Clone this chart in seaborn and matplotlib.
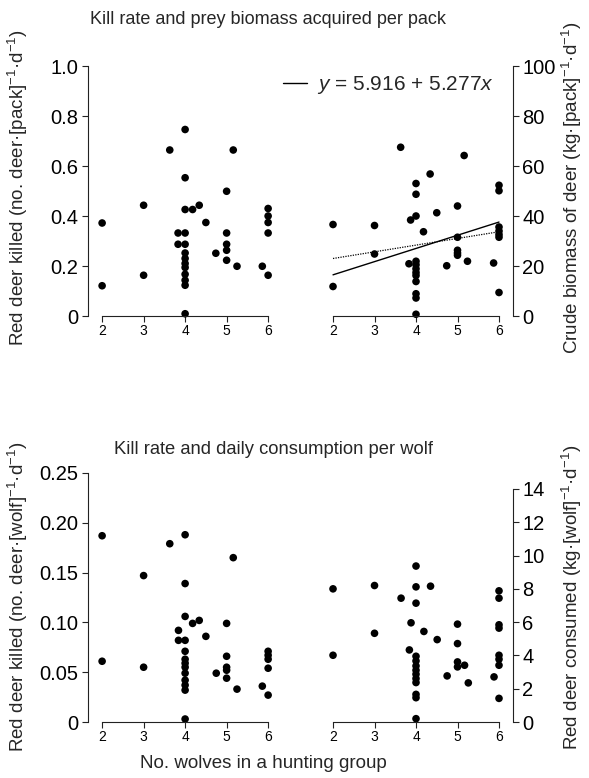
import matplotlib
matplotlib.use("Agg")
import matplotlib.pyplot as plt
import seaborn as sns
from matplotlib.lines import Line2D

# values
pack_x = [2, 2, 3, 3, 3.63, 4, 4, 4, 4.18, 4.34, 4.5, 3.83, 4, 3.83, 4, 4, 4, 4, 4,
          4, 4, 4, 4, 4.74, 5, 5, 5, 5, 5, 5.16, 5.25, 5.86, 6, 6, 6, 6, 6]
pack_kill = [0.372, 0.121, 0.443, 0.163, 0.664, 0.746, 0.553, 0.426, 0.426, 0.443,
             0.374, 0.332, 0.332, 0.287, 0.287, 0.252, 0.230, 0.210, 0.194, 0.167,
             0.143, 0.123, 0.009, 0.251, 0.499, 0.332, 0.287, 0.263, 0.223, 0.664,
             0.199, 0.199, 0.430, 0.400, 0.374, 0.332, 0.163]

bio_x = [2, 2, 3, 3, 3.63, 4, 4, 4, 3.87, 4.18, 4.34, 4.5, 3.83, 4, 4, 4, 4, 4, 4,
         4, 4, 4, 4.74, 5, 5, 5, 5, 5, 5.16, 5.24, 5.87, 6, 6, 6, 6, 6, 6, 6]
bio_pack = [36.6, 11.8, 36.2, 24.8, 67.5, 53.0, 48.7, 40.0, 38.4, 33.7, 56.8, 41.3,
            20.9, 21.9, 20.5, 18.9, 17.4, 16.2, 13.8, 8.9, 7.2, 0.7, 20.1, 44.0,
            31.5, 26.3, 25.2, 24.3, 64.2, 21.9, 21.2, 52.3, 50.1, 35.6, 34.0, 32.6,
            31.5, 9.4]

wolf_x = [2, 2, 3, 3, 3.63, 4, 4, 4, 4.18, 4.34, 4.5, 3.84, 3.84, 4, 4, 4, 4, 4, 4,
          4, 4, 4, 4, 4.75, 5, 5, 5, 5, 5, 5.16, 5.25, 5.86, 6, 6, 6, 6, 6]
wolf_kill = [0.187, 0.061, 0.147, 0.055, 0.179, 0.188, 0.139, 0.106, 0.099, 0.102,
             0.086, 0.092, 0.082, 0.082, 0.071, 0.063, 0.059, 0.055, 0.049, 0.042,
             0.037, 0.032, 0.003, 0.049, 0.099, 0.066, 0.055, 0.052, 0.044, 0.165,
             0.033, 0.036, 0.071, 0.067, 0.063, 0.054, 0.027]

cons_x = [2, 2, 3, 3, 3.64, 4, 4, 4, 3.88, 4.19, 4.35, 4.51, 3.84, 4, 4, 4, 4, 4, 4,
          4, 4, 4, 4, 4.75, 5, 5, 5, 5, 5.17, 5.26, 5.88, 6, 6, 6, 6, 6, 6, 6, 6]
wolf_cons = [8.0, 4.01, 8.2, 5.33, 7.44, 9.37, 8.12, 7.14, 5.96, 5.44, 8.16, 4.95,
             4.33, 3.95, 3.67, 3.37, 3.11, 2.87, 2.61, 2.37, 1.66, 1.46, 0.2, 2.77,
             5.88, 4.71, 3.61, 3.31, 3.41, 2.35, 2.71, 7.88, 7.44, 5.84, 5.64, 4.01,
             3.77, 3.41, 1.42]

# fitted lines on the biomass panel
fit_intercept, fit_slope = 5.916, 5.277
dotted_intercept, dotted_slope = 17.65, 2.675
line_x = [2, 6]

x_ticks = [2, 3, 4, 5, 6]
pack_ticks = [0, 0.2, 0.4, 0.6, 0.8, 1.0]
pack_labels = ["0", "0.2", "0.4", "0.6", "0.8", "1.0"]
bio_ticks = [0, 20, 40, 60, 80, 100]
wolf_ticks = [0, 0.05, 0.10, 0.15, 0.20, 0.25]
wolf_labels = ["0", "0.05", "0.10", "0.15", "0.20", "0.25"]
cons_ticks = [0, 2, 4, 6, 8, 10, 12, 14]

sns.set_style("ticks")
plt.rcParams["font.family"] = ["Liberation Sans", "DejaVu Sans"]
plt.rcParams["mathtext.fontset"] = "custom"
plt.rcParams["mathtext.rm"] = "Liberation Sans"
plt.rcParams["mathtext.it"] = "Liberation Sans:italic"
plt.rcParams["axes.linewidth"] = 0.8
plt.rcParams["axes.edgecolor"] = "#222222"

fig = plt.figure(figsize=(5.89, 7.78), dpi=100)

W, H = 589, 778
LEFT_XLIM = (1.66, 6.25)
RIGHT_XLIM = (1.72, 6.33)


def make_ax(left_px, top_px, width_px, height_px):
    return fig.add_axes([left_px / W, 1 - (top_px + height_px) / H,
                         width_px / W, height_px / H])


ax_tl = make_ax(88, 66, 190.5, 250)
ax_tr = make_ax(321.4, 66, 191.3, 250)
ax_bl = make_ax(88, 473, 190.5, 249)
ax_br = make_ax(321.4, 473, 191.3, 249)


def style(ax, side, yticks, ylabels, ylim, ybounds):
    ax.set_xlim(*(LEFT_XLIM if side == "left" else RIGHT_XLIM))
    ax.set_ylim(*ylim)
    ax.set_xticks(x_ticks)
    ax.set_xticklabels([str(t) for t in x_ticks], fontsize=10)
    ax.set_yticks(yticks)
    ax.set_yticklabels(ylabels, fontsize=14.5)
    ax.spines["top"].set_visible(False)
    ax.spines["bottom"].set_bounds(2, 6)
    if side == "left":
        ax.spines["right"].set_visible(False)
        ax.spines["left"].set_bounds(*ybounds)
    else:
        ax.spines["left"].set_visible(False)
        ax.spines["right"].set_bounds(*ybounds)
        ax.yaxis.tick_right()
    ax.tick_params(axis="both", direction="out", length=4, width=0.8, pad=2,
                   colors="#222222", labelcolor="black")
    ax.tick_params(axis="y", pad=3)
    ax.set_xlabel("")
    ax.set_ylabel("")


dot = dict(color="black", s=30, edgecolor="none", clip_on=False, legend=False)

sns.scatterplot(x=pack_x, y=pack_kill, ax=ax_tl, **dot)
style(ax_tl, "left", pack_ticks, pack_labels, (0, 1.0), (0, 1.0))

sns.scatterplot(x=bio_x, y=bio_pack, ax=ax_tr, **dot)
ax_tr.plot(line_x, [fit_intercept + fit_slope * v for v in line_x],
           color="black", lw=1.0)
ax_tr.plot(line_x, [dotted_intercept + dotted_slope * v for v in line_x],
           color="black", lw=0.9, ls=(0, (1, 1)))
style(ax_tr, "right", bio_ticks, [str(t) for t in bio_ticks], (0, 100), (0, 100))
ax_tr.legend(handles=[Line2D([0], [0], color="black", lw=1.0)],
             labels=[r"$y$ = 5.916 + 5.277$x$"], loc="upper right",
             bbox_to_anchor=(0.944, 1.0), frameon=False, fontsize=15,
             handlelength=1.15, handletextpad=0.5, borderaxespad=0)

sns.scatterplot(x=wolf_x, y=wolf_kill, ax=ax_bl, **dot)
style(ax_bl, "left", wolf_ticks, wolf_labels, (0, 0.25), (0, 0.25))

sns.scatterplot(x=cons_x, y=wolf_cons, ax=ax_br, **dot)
style(ax_br, "right", cons_ticks, [str(t) for t in cons_ticks], (0, 14.96), (0, 14))

fig.text(268 / W, 1 - 19 / H, "Kill rate and prey biomass acquired per pack",
         ha="center", va="center", fontsize=13)
fig.text(273 / W, 1 - 449 / H, "Kill rate and daily consumption per wolf",
         ha="center", va="center", fontsize=13.2)
fig.text(263 / W, 1 - 764 / H, "No. wolves in a hunting group",
         ha="center", va="center", fontsize=13.5)

fig.text(18 / W, 1 - 188 / H,
         "Red deer killed (no. deer·[pack]$^{-1}$·d$^{-1}$)",
         rotation=90, ha="center", va="center", fontsize=13.5)
fig.text(572 / W, 1 - 188 / H,
         "Crude biomass of deer (kg·[pack]$^{-1}$·d$^{-1}$)",
         rotation=90, ha="center", va="center", fontsize=13.5)
fig.text(18 / W, 1 - 597 / H,
         "Red deer killed (no. deer·[wolf]$^{-1}$·d$^{-1}$)",
         rotation=90, ha="center", va="center", fontsize=13.5)
fig.text(572 / W, 1 - 597 / H,
         "Red deer consumed (kg·[wolf]$^{-1}$·d$^{-1}$)",
         rotation=90, ha="center", va="center", fontsize=13.5)

fig.savefig("out.png", dpi=100)
